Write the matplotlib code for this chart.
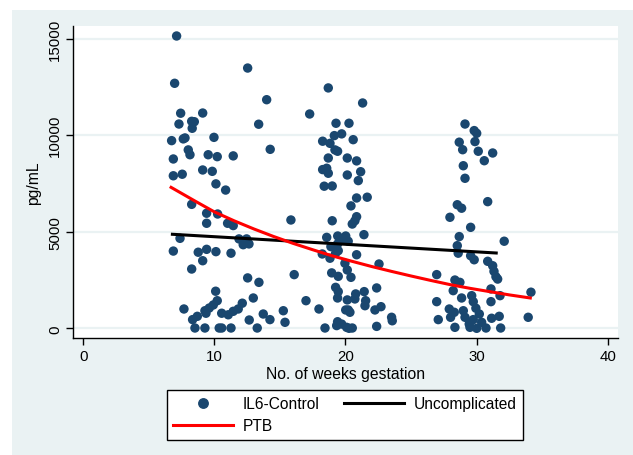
import matplotlib
matplotlib.use("Agg")
import matplotlib.pyplot as plt
from matplotlib.patches import Rectangle
from matplotlib.lines import Line2D

plt.rcParams['font.family'] = ['Liberation Sans', 'DejaVu Sans']

# IL6-Control scatter: weeks of gestation and IL6 (pg/mL)
weeks = [7.12, 6.97, 7.43, 9.11, 7.30, 8.27, 8.47, 8.31, 6.74, 7.76, 7.63, 9.97, 6.87, 8.01, 8.14, 9.53, 10.22,
         6.87, 7.55, 9.11, 9.84, 10.12, 8.27, 9.41, 10.25, 9.41, 7.38, 6.87, 8.77, 9.41, 10.12, 9.11, 8.27, 10.10,
         10.22, 7.68, 8.34, 8.70, 9.28, 9.61, 9.92, 8.52, 9.28, 10.37, 9.36,
         12.54, 13.99, 13.38, 14.26, 11.44, 10.86, 11.01, 11.44, 11.88, 12.46, 12.20, 12.64, 11.27, 15.84, 12.54,
         13.40, 16.09, 12.97, 12.13, 11.82, 11.44, 11.06, 10.56, 13.73, 14.24, 15.26, 15.39, 12.66, 10.56, 11.27, 13.27,
         18.69, 21.31, 17.27, 19.28, 20.27, 19.15, 19.71, 18.26, 18.82, 20.59, 19.20, 19.40, 18.69, 20.14, 20.85,
         18.26, 18.57, 18.69, 21.16, 20.14, 20.98, 18.38, 18.99, 20.85, 21.66, 20.42, 20.85, 20.72, 20.52, 18.99,
         21.41, 18.57, 19.41, 20.02, 19.83, 20.21, 18.23, 18.82, 19.25, 19.45, 19.40, 18.89, 20.85, 19.96, 20.14,
         20.42, 22.56, 18.95, 19.45, 19.25, 19.45, 19.40, 22.38, 20.78, 21.43, 20.72, 21.54, 21.49, 20.14, 20.21,
         20.02, 20.34, 16.99, 17.98, 22.25, 22.71, 23.52, 23.57, 19.40, 19.71, 20.09, 20.52, 20.27, 18.44, 22.38, 19.33,
         29.12, 29.82, 30.01, 28.68, 29.88, 28.94, 30.13, 31.23, 30.59, 28.99, 29.12, 30.85, 28.53, 28.86, 27.97,
         29.55, 28.68, 32.11, 28.53, 28.60, 29.55, 29.82, 30.85, 31.23, 31.33, 31.48, 31.61, 26.96, 28.35, 28.73,
         28.22, 31.10, 31.79, 28.86, 29.63, 29.75, 34.15, 26.96, 31.10, 27.92, 28.30, 28.99, 29.95, 30.21, 28.02,
         29.12, 29.75, 31.15, 31.73, 27.08, 29.44, 30.39, 28.35, 29.50, 30.01, 30.72, 31.84, 33.94]
il6 = [15140, 12690, 11140, 11150, 10580, 10720, 10700, 10360, 9720, 9860, 9810, 9890, 8770, 9240, 8990, 8990, 8890,
       7900, 7980, 8200, 8130, 7480, 6420, 5960, 5920, 5440, 4660, 4000, 3940, 4090, 3970, 3500, 3070, 1920,
       1430, 1000, 450, 620, 910, 1050, 1210, 15, 15, 15, 780,
       13480, 11840, 10570, 9270, 8930, 7160, 5440, 5320, 4630, 4630, 4330, 4370, 3890, 5610, 2610,
       2380, 2780, 1570, 1300, 1000, 880, 700, 780, 740, 450, 910, 310, 430, 15, 15, 15,
       12450, 11670, 11100, 10620, 10620, 9980, 10070, 9690, 9580, 9770, 9240, 9170, 8820, 8820, 8670,
       8220, 8290, 8030, 8110, 7940, 7650, 7360, 7370, 6750, 6790, 6340, 5780, 5570, 5400, 5570,
       4850, 4710, 4780, 4780, 4570, 4510, 3850, 3630, 3890, 4020, 4370, 4230, 3810, 3370, 3020,
       2640, 3330, 2870, 2690, 2120, 1900, 1570, 2090, 1780, 1900, 1520, 1430, 1170, 1470, 950,
       950, 830, 1430, 1000, 950, 1120, 570, 390, 340, 220, 50, 15, 0, 15, 100, 140,
       10580, 10240, 10100, 9640, 9670, 9250, 9170, 9080, 8680, 8420, 7770, 6560, 6400, 6220, 5750,
       5230, 4750, 4510, 4280, 3890, 3760, 3550, 3470, 3240, 2950, 2670, 2550, 2780, 2500, 2380,
       1950, 2040, 1690, 1570, 1690, 1380, 1870, 1380, 1380, 1000, 830, 910, 1040, 740, 570,
       570, 450, 520, 620, 450, 220, 310, 50, 50, 0, 15, 15, 570]

# Uncomplicated fit line
uncomp_weeks = [6.8, 31.5]
uncomp_vals = [4870, 3900]

# PTB fit curve
ptb_weeks = [6.7, 8.5, 10.0, 11.5, 13.0, 14.5, 16.0, 17.5, 19.0, 20.5, 22.0, 23.5, 25.0, 26.5, 28.0, 29.5, 31.0, 32.5, 34.1]
ptb_vals = [7300, 6600, 6030, 5570, 5150, 4760, 4400, 4070, 3750, 3470, 3200, 2950, 2710, 2480, 2260, 2070, 1900, 1730, 1570]

x_ticks = [0, 10, 20, 30, 40]
y_ticks = [0, 5000, 10000, 15000]

W, H = 633, 456
fig = plt.figure(figsize=(W / 100, H / 100), dpi=100)
fig.patch.set_facecolor('white')
bg = '#EAF2F3'
fig.patches.append(Rectangle((12 / W, 0), 1 - 12 / W, 1 - 11 / H, transform=fig.transFigure,
                             facecolor=bg, edgecolor='none', zorder=-10))

ax = fig.add_axes([73.3 / W, 1 - 339.3 / H, (618 - 73.3) / W, (339.3 - 26.7) / H])
ax.set_facecolor('white')

navy = '#1A476F'
ax.scatter(weeks, il6, s=46, color=navy, edgecolors='none', zorder=3)
ax.plot(uncomp_weeks, uncomp_vals, color='black', lw=2.2, zorder=4)
ax.plot(ptb_weeks, ptb_vals, color='#FF0000', lw=2.2, zorder=4)

ax.set_xlim(-0.76, 40.79)
ax.set_ylim(-518, 15673)
ax.set_xticks(x_ticks)
ax.set_yticks(y_ticks)
ax.set_yticklabels([str(v) for v in y_ticks], rotation=90, va='center')
ax.tick_params(axis='both', direction='out', length=5, width=1, labelsize=10.8, colors='black', pad=3)
for t in y_ticks:
    ax.axhline(t, color=bg, lw=1.6, zorder=1)
for s in ['top', 'right']:
    ax.spines[s].set_visible(False)
for s in ['left', 'bottom']:
    ax.spines[s].set_linewidth(1)
    ax.spines[s].set_color('black')

ax.set_xlabel('No. of weeks gestation', fontsize=11.3, labelpad=2)
ax.set_ylabel('pg/mL', fontsize=11.3, labelpad=5)

handles = [Line2D([], [], marker='o', ls='none', color=navy, markersize=6.8),
           Line2D([], [], color='#FF0000', lw=2.2),
           Line2D([], [], color='black', lw=2.2)]
labels = ['IL6-Control', 'PTB', 'Uncomplicated']
leg = fig.legend(handles, labels, ncol=2, loc='center', bbox_to_anchor=(344.9 / W, 1 - 415.9 / H),
                 fontsize=11.2, frameon=True, fancybox=False, edgecolor='black', facecolor='white',
                 handlelength=3.85, handletextpad=0.64, columnspacing=1.55, labelspacing=0.45,
                 borderpad=0.4, borderaxespad=0)
leg.get_frame().set_linewidth(1)
leg.get_frame().set_alpha(1)

fig.savefig('out.png', dpi=100, facecolor=fig.get_facecolor())
